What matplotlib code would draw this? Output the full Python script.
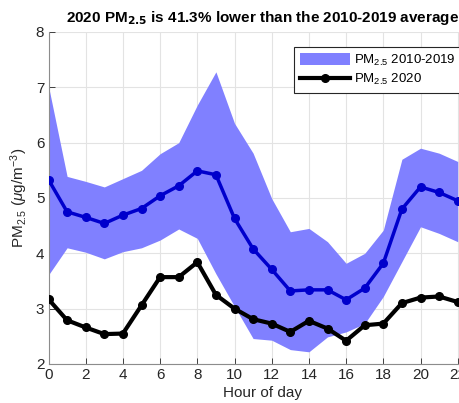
import matplotlib.pyplot as plt
import numpy as np

plt.rcParams['font.family'] = ['Liberation Sans', 'DejaVu Sans']
plt.rcParams['mathtext.fontset'] = 'custom'
plt.rcParams['mathtext.rm'] = 'Liberation Sans'
plt.rcParams['mathtext.it'] = 'Liberation Sans:italic'

# Hourly PM2.5 (ug/m3)
hours = list(range(23))
mean_2010_2019 = [5.33, 4.75, 4.65, 4.54, 4.69, 4.81, 5.04, 5.22, 5.49, 5.42,
                  4.63, 4.08, 3.71, 3.32, 3.34, 3.34, 3.16, 3.37, 3.82, 4.80,
                  5.20, 5.10, 4.95]
upper_2010_2019 = [7.02, 5.39, 5.30, 5.20, 5.35, 5.50, 5.80, 6.00, 6.68, 7.28,
                   6.35, 5.81, 4.99, 4.39, 4.45, 4.21, 3.82, 4.00, 4.42, 5.70,
                   5.90, 5.81, 5.66]
lower_2010_2019 = [3.61, 4.10, 4.02, 3.90, 4.03, 4.10, 4.24, 4.44, 4.27, 3.63,
                   3.04, 2.46, 2.43, 2.26, 2.22, 2.49, 2.58, 2.73, 3.22, 3.85,
                   4.48, 4.36, 4.21]
pm_2020 = [3.17, 2.79, 2.66, 2.54, 2.55, 3.06, 3.57, 3.57, 3.84, 3.25,
           3.00, 2.81, 2.73, 2.58, 2.78, 2.64, 2.42, 2.70, 2.73, 3.10,
           3.20, 3.22, 3.12]

fig = plt.figure(figsize=(4.59, 4.03), dpi=100)
ax = fig.add_axes([0.1057, 0.0968, 0.932, 0.8238])

band = ax.fill_between(hours, lower_2010_2019, upper_2010_2019,
                       color=(0.5, 0.5, 1.0), linewidth=0, zorder=2)
ax.plot(hours, mean_2010_2019, '-o', color=(0, 0, 0.8), linewidth=2.5,
        markersize=5.5, zorder=3)
line20, = ax.plot(hours, pm_2020, '-o', color='black', linewidth=3,
                  markersize=5.5, zorder=3)

ax.set_xlim(0, 23)
ax.set_ylim(2, 8)
ax.set_xticks(range(0, 23, 2))
ax.set_yticks(range(2, 9))
ax.grid(True, color='#e3e3e3', linewidth=0.8, zorder=0)
ax.set_axisbelow(True)
ax.tick_params(direction='in', labelsize=11, colors='#262626', length=4,
               width=0.6, pad=3)
for side in ['top', 'right']:
    ax.spines[side].set_visible(False)
for side in ['left', 'bottom']:
    ax.spines[side].set_color('#8c8c8c')
    ax.spines[side].set_linewidth(0.8)

ax.set_title(r'2020 PM$_{\mathbf{2.5}}$ is 41.3% lower than the 2010-2019 average',
             fontsize=11, fontweight='bold', pad=7)
ax.set_xlabel('Hour of day', fontsize=11, color='#262626', labelpad=3)
ax.set_ylabel(r'PM$_{2.5}$ ($\mu$g/m$^{-3}$)', fontsize=11, color='#262626',
              labelpad=4)

leg = ax.legend([band, line20],
                [r'PM$_{2.5}$ 2010-2019', r'PM$_{2.5}$ 2020'],
                loc='upper right', fontsize=9.5, fancybox=False,
                edgecolor='#262626', framealpha=1, borderaxespad=1.1,
                handlelength=3.8, handleheight=1.1, borderpad=0.45,
                labelspacing=0.35, handletextpad=0.3)
leg.get_frame().set_linewidth(0.8)

fig.savefig('out.png', dpi=100)
